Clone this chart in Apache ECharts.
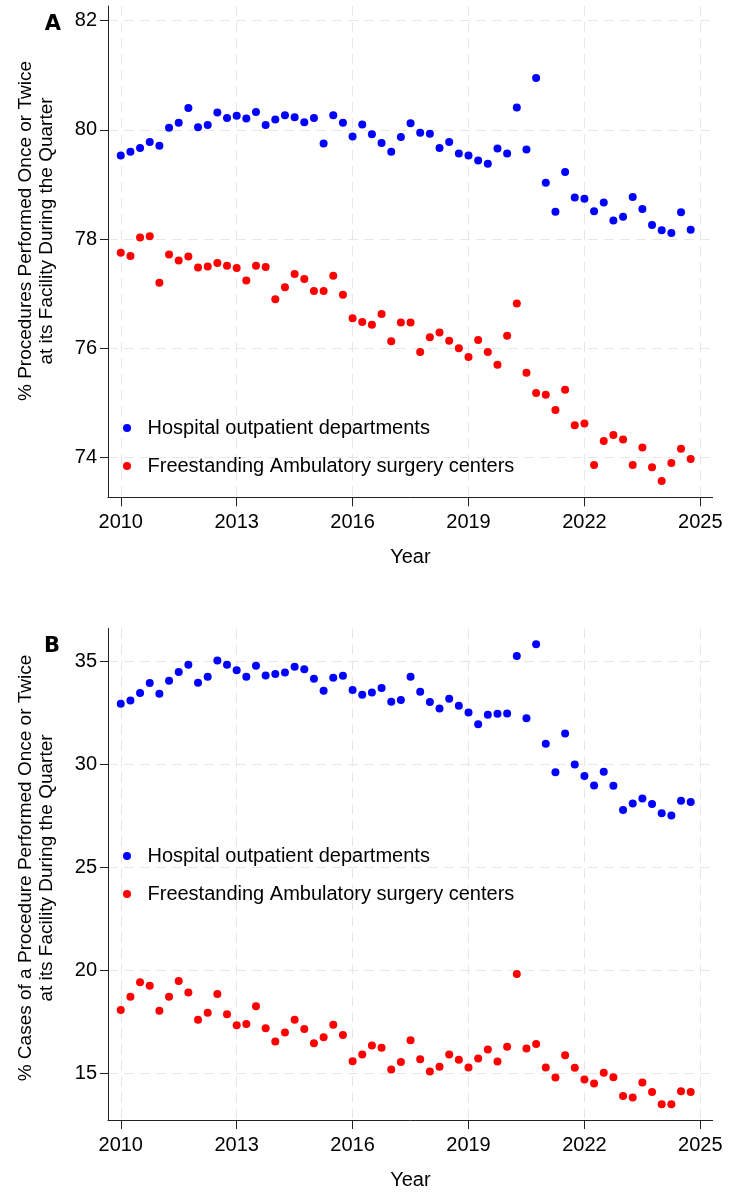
<!DOCTYPE html>
<html>
<head>
<meta charset="utf-8">
<title>Procedures performed once or twice per quarter</title>
<script src="https://cdn.jsdelivr.net/npm/echarts@6/dist/echarts.min.js"></script>
<style>
  html, body { margin: 0; padding: 0; background: #fff; }
  #chart { width: 750px; height: 1200px; }
</style>
</head>
<body>
<div id="chart"></div>
<script>
// quarter start times, 2010 Q1 .. 2024 Q4
const quarters = [
  2010, 2010.25, 2010.5, 2010.75, 2011, 2011.25, 2011.5, 2011.75,
  2012, 2012.25, 2012.5, 2012.75, 2013, 2013.25, 2013.5, 2013.75,
  2014, 2014.25, 2014.5, 2014.75, 2015, 2015.25, 2015.5, 2015.75,
  2016, 2016.25, 2016.5, 2016.75, 2017, 2017.25, 2017.5, 2017.75,
  2018, 2018.25, 2018.5, 2018.75, 2019, 2019.25, 2019.5, 2019.75,
  2020, 2020.25, 2020.5, 2020.75, 2021, 2021.25, 2021.5, 2021.75,
  2022, 2022.25, 2022.5, 2022.75, 2023, 2023.25, 2023.5, 2023.75,
  2024, 2024.25, 2024.5, 2024.75
]

const seriesNames = ['Hospital outpatient departments', 'Freestanding Ambulatory surgery centers']

// panel A: % procedures performed once or twice
const hopdA = [
  79.53, 79.60, 79.67, 79.78, 79.71, 80.04, 80.13, 80.40, 80.05, 80.09,
  80.32, 80.22, 80.26, 80.21, 80.33, 80.09, 80.19, 80.27, 80.23, 80.14,
  80.22, 79.75, 80.27, 80.13, 79.88, 80.10, 79.92, 79.76, 79.60, 79.87,
  80.12, 79.95, 79.93, 79.67, 79.78, 79.57, 79.53, 79.44, 79.38, 79.66,
  79.57, 80.41, 79.64, 80.95, 79.03, 78.50, 79.23, 78.76, 78.74, 78.51,
  78.67, 78.34, 78.41, 78.77, 78.55, 78.26, 78.16, 78.11, 78.49, 78.17
]
const ascA = [
  77.75, 77.69, 78.03, 78.05, 77.20, 77.72, 77.61, 77.68, 77.48, 77.50,
  77.56, 77.51, 77.47, 77.24, 77.51, 77.49, 76.90, 77.12, 77.36, 77.27,
  77.05, 77.05, 77.33, 76.98, 76.55, 76.48, 76.43, 76.63, 76.13, 76.47,
  76.47, 75.93, 76.20, 76.29, 76.14, 76.00, 75.84, 76.15, 75.93, 75.70,
  76.23, 76.82, 75.55, 75.18, 75.15, 74.87, 75.24, 74.59, 74.62, 73.86,
  74.30, 74.41, 74.33, 73.86, 74.18, 73.82, 73.57, 73.90, 74.16, 73.97
]

// panel B: % cases of a procedure performed once or twice
const hopdB = [
  32.93, 33.09, 33.45, 33.93, 33.41, 34.05, 34.47, 34.82, 33.95, 34.24,
  35.03, 34.82, 34.55, 34.24, 34.77, 34.30, 34.37, 34.45, 34.72, 34.60,
  34.14, 33.56, 34.19, 34.29, 33.59, 33.37, 33.48, 33.69, 33.03, 33.11,
  34.24, 33.51, 33.01, 32.70, 33.17, 32.83, 32.51, 31.93, 32.39, 32.44,
  32.46, 35.24, 32.23, 35.81, 30.99, 29.60, 31.49, 29.98, 29.42, 28.96,
  29.63, 28.95, 27.77, 28.09, 28.33, 28.06, 27.62, 27.51, 28.22, 28.16
]
const ascB = [
  18.07, 18.71, 19.42, 19.24, 18.03, 18.71, 19.48, 18.92, 17.59, 17.93,
  18.85, 17.86, 17.33, 17.39, 18.25, 17.18, 16.54, 16.97, 17.59, 17.14,
  16.46, 16.75, 17.35, 16.86, 15.58, 15.91, 16.34, 16.23, 15.18, 15.55,
  16.60, 15.68, 15.08, 15.31, 15.91, 15.65, 15.28, 15.71, 16.15, 15.57,
  16.29, 19.82, 16.20, 16.42, 15.28, 14.79, 15.87, 15.26, 14.69, 14.50,
  15.02, 14.81, 13.90, 13.82, 14.55, 14.09, 13.49, 13.49, 14.13, 14.09
]

const yearTicks = [2010, 2013, 2016, 2019, 2022, 2025]
const ticksA = [74, 76, 78, 80, 82]
const ticksB = [15, 20, 25, 30, 35]

const titleA = '% Procedures Performed Once or Twice\nat its Facility During the Quarter'
const titleB = '% Cases of a Procedure Performed Once or Twice\nat its Facility During the Quarter'

const FONT = '"Liberation Sans", Arial, Helvetica, sans-serif'
const BLUE = '#0000ff'
const RED = '#ff0000'

function pairs(vals) {
  return quarters.map((q, i) => [q, vals[i]])
}

function xAxisFor(gridIndex) {
  return {
    type: 'value',
    gridIndex: gridIndex,
    min: 2009.67,
    max: 2025.32,
    name: 'Year',
    nameLocation: 'middle',
    nameGap: 50,
    nameTextStyle: { color: '#000', fontSize: 20, fontFamily: FONT },
    axisLine: { show: true, onZero: false, lineStyle: { color: '#222', width: 1 } },
    axisTick: { show: true, length: 9, customValues: yearTicks, lineStyle: { color: '#222' } },
    axisLabel: {
      customValues: yearTicks,
      formatter: v => String(v),
      color: '#000', fontSize: 20, fontFamily: FONT, margin: 15
    },
    splitLine: { show: true, lineStyle: { color: '#e6e6e6', type: [10, 6], width: 1 } }
  }
}

function yAxisFor(gridIndex, min, max, ticks) {
  return {
    type: 'value',
    gridIndex: gridIndex,
    min: min,
    max: max,
    axisLine: { show: true, onZero: false, lineStyle: { color: '#222', width: 1 } },
    axisTick: { show: true, length: 8, customValues: ticks, lineStyle: { color: '#222' } },
    axisLabel: {
      customValues: ticks,
      formatter: v => String(v),
      color: '#000', fontSize: 20, fontFamily: FONT, margin: 11
    },
    splitLine: { show: true, lineStyle: { color: '#e6e6e6', type: [10, 6], width: 1 } }
  }
}

function dots(name, vals, color, idx) {
  return {
    name: name,
    type: 'scatter',
    xAxisIndex: idx,
    yAxisIndex: idx,
    symbol: 'circle',
    symbolSize: 8,
    itemStyle: { color: color, opacity: 1 },
    data: pairs(vals),
    animation: false
  }
}

function legendAt(top) {
  return {
    data: seriesNames,
    orient: 'vertical',
    left: 118,
    top: top,
    itemWidth: 31,
    itemHeight: 8,
    itemGap: 18,
    icon: 'circle',
    selectedMode: false,
    textStyle: { color: '#000', fontSize: 20, fontFamily: FONT }
  }
}

// heavy panel letter
function panelTag(text, x, y) {
  return {
    type: 'text', x: x, y: y,
    style: { text: text, fill: '#000', font: 'bold 21px "DejaVu Sans", sans-serif', align: 'center', verticalAlign: 'middle' }
  }
}

const chart = echarts.init(document.getElementById('chart'), null, { renderer: 'canvas' })

chart.setOption({
  backgroundColor: '#fff',
  animation: false,
  grid: [
    { left: 108, top: 6, width: 604.7, height: 491.3 },
    { left: 108, top: 628.3, width: 604.7, height: 491.7 }
  ],
  xAxis: [xAxisFor(0), xAxisFor(1)],
  yAxis: [
    yAxisFor(0, 73.27, 82.27, ticksA),
    yAxisFor(1, 12.73, 36.59, ticksB)
  ],
  legend: [legendAt(413), legendAt(841)],
  graphic: [
    {
      type: 'text', x: 36, y: 231, rotation: Math.PI / 2,
      style: { text: titleA, fill: '#000', font: '19px ' + FONT, lineHeight: 21, align: 'center', verticalAlign: 'middle' }
    },
    {
      type: 'text', x: 36, y: 868, rotation: Math.PI / 2,
      style: { text: titleB, fill: '#000', font: '19px ' + FONT, lineHeight: 21, align: 'center', verticalAlign: 'middle' }
    },
    panelTag('A', 53, 25),
    panelTag('B', 52, 647)
  ],
  series: [
    dots(seriesNames[0], hopdA, BLUE, 0),
    dots(seriesNames[1], ascA, RED, 0),
    dots(seriesNames[0], hopdB, BLUE, 1),
    dots(seriesNames[1], ascB, RED, 1)
  ]
})
</script>
</body>
</html>
